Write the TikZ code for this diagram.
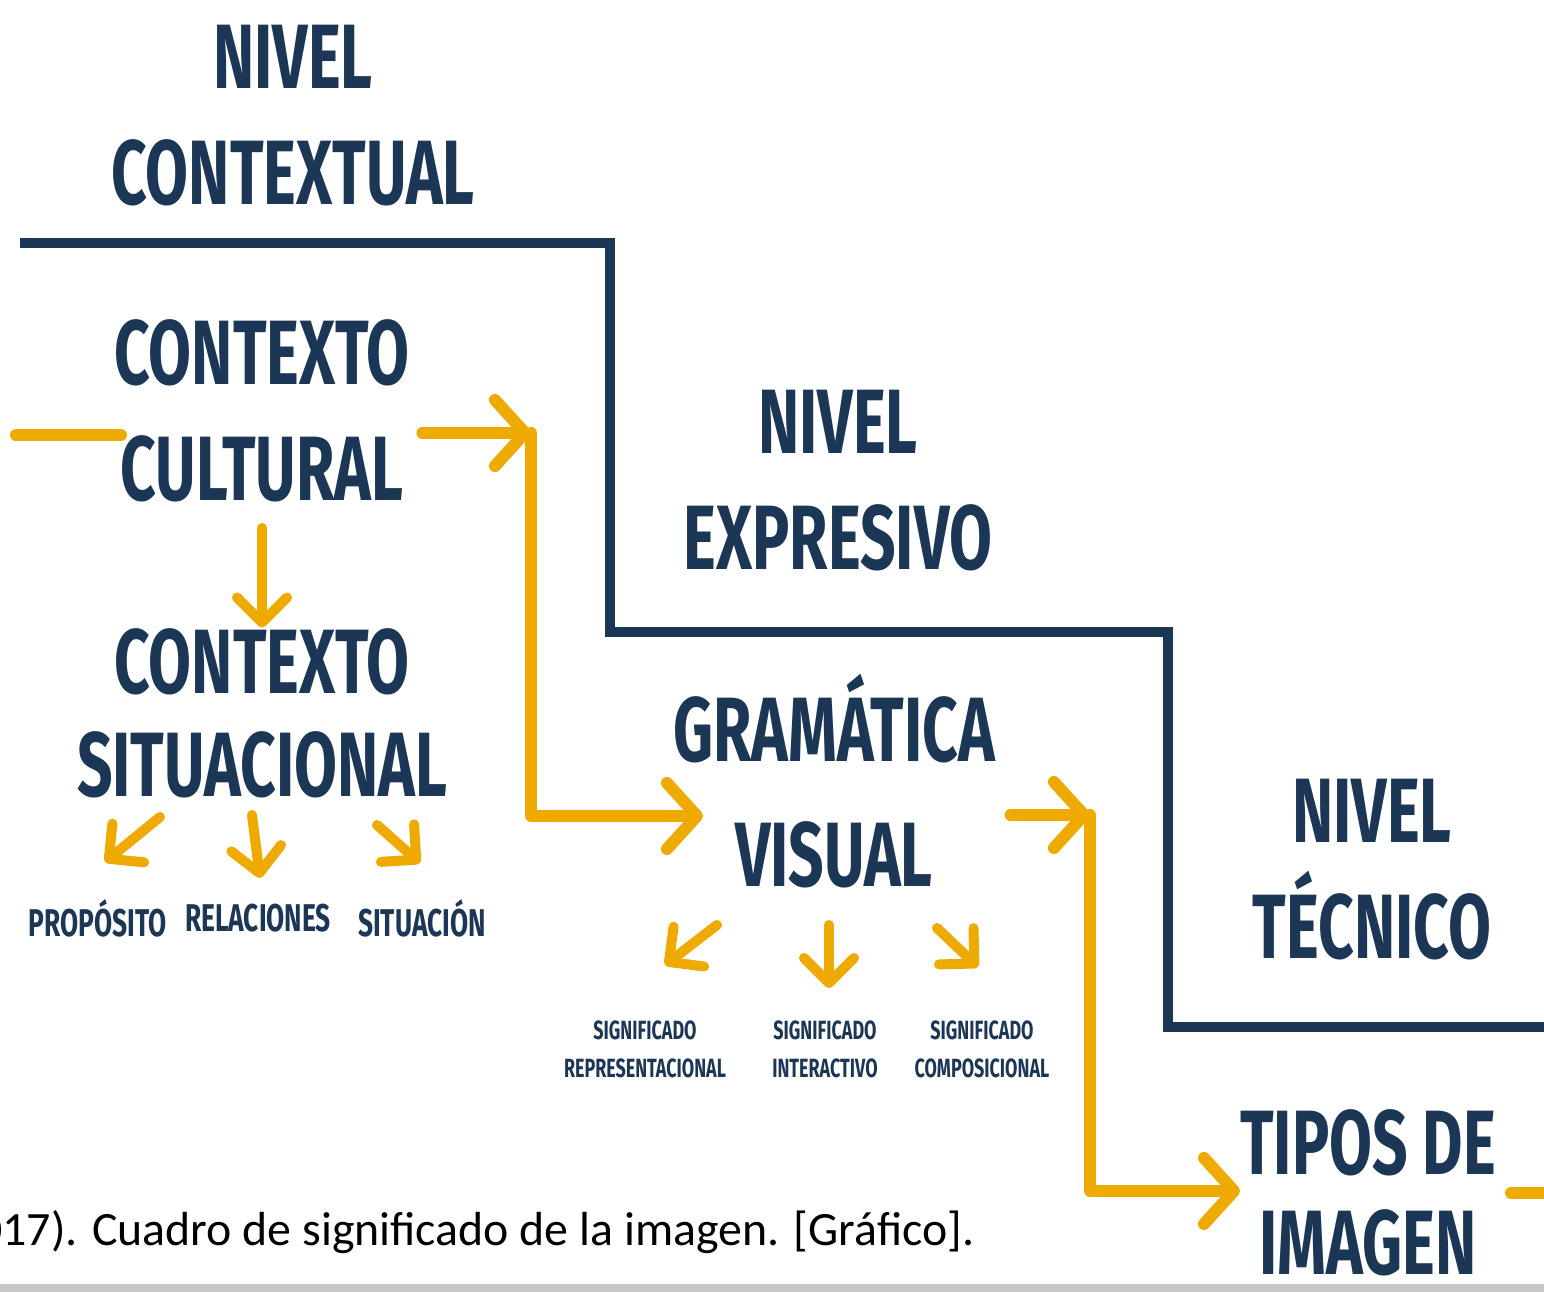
\documentclass[tikz,border=0pt]{standalone}
\usepackage{fontspec}
\setmainfont{Carlito}
\newfontfamily\hand[FakeStretch=0.68]{Fira Sans}
\usetikzlibrary{arrows.meta}
\definecolor{navy}{HTML}{1C3656}
\definecolor{gold}{HTML}{EFAA00}
\tikzset{
    lvl/.style={font=\hand\bfseries\fontsize{26}{33}\selectfont, text=navy, align=center, inner sep=0pt},
    lbl/.style={font=\hand\bfseries\fontsize{11}{13}\selectfont, text=navy, inner sep=0pt},
    tinylbl/.style={font=\hand\bfseries\fontsize{7.5}{10.8}\selectfont, text=navy, align=center, inner sep=0pt},
    stepline/.style={draw=navy, line width=0.1cm},
    gline/.style={draw=gold, line width=0.12cm, line cap=round, line join=round},
    garrow/.style={gline, -{Straight Barb[length=0.3cm, width=0.66cm, line cap=round, line join=round]}},
    sarrow/.style={draw=gold, line width=0.1cm, line cap=round, -{Straight Barb[length=0.25cm, width=0.5cm, line cap=round, line join=round]}}
}
\begin{document}
\begin{tikzpicture}[x=0.01cm, y=-0.01cm]
    \useasboundingbox (0,0) rectangle (1544,1292);

    % the three levels
    \node[lvl] (ctx) at (293,116) {NIVEL\\CONTEXTUAL};
    \node[lvl] (expr) at (838,481) {NIVEL\\EXPRESIVO};
    \node[lvl] (tec) at (1372,870) {NIVEL\\TÉCNICO};
    \draw[stepline] (20,243) -| (610,632) -| (1168,1027) -- (1544,1027);

    % contents of each level
    \node[lvl] (cult) at (262,411) {CONTEXTO\\CULTURAL};
    \node[lvl] (sit) at (262,713) {CONTEXTO\\[-0.13cm]SITUACIONAL};
    \node[lvl] (gram) at (834,781) {GRAMÁTICA\\[0.09cm]VISUAL};
    \node[lvl] (tipos) at (1368,1193) {TIPOS DE\\[-0.16cm]IMAGEN};

    \node[lbl] (prop) at (98,918) {PROPÓSITO};
    \node[lbl] (rel) at (258,918) {RELACIONES};
    \node[lbl] (situ) at (422,918) {SITUACIÓN};

    \node[tinylbl] (srep) at (645,1049) {SIGNIFICADO\\REPRESENTACIONAL};
    \node[tinylbl] (sint) at (825,1049) {SIGNIFICADO\\INTERACTIVO};
    \node[tinylbl] (scom) at (982,1049) {SIGNIFICADO\\COMPOSICIONAL};

    % yellow path through the levels
    \coordinate (k1) at (531,433);
    \coordinate (t1) at (703,816);
    \coordinate (k2) at (1090,815);
    \coordinate (t2) at (1240,1191);
    \draw[gline] (16,435) -- (121,435);
    \draw[garrow] ([xshift=0.12cm]cult.east |- k1) -- (k1);
    \draw[garrow] (k1) |- (t1);
    \draw[garrow] ([xshift=0.15cm]gram.east |- k2) -- (k2);
    \draw[garrow] (k2) |- (t2);
    \draw[gline] (1511,1193) -- (1550,1193);

    % small arrows
    \draw[sarrow] ([yshift=-0.25cm]cult.south) -- (sit.north);
    \draw[sarrow] (160,817) -- (105,862);
    \draw[sarrow] (252,815) -- (260,878);
    \draw[sarrow] (377,825) -- (420,863);
    \draw[sarrow] (717,925) -- (665,965);
    \draw[sarrow] (829,925) -- (829,988);
    \draw[sarrow] (937,928) -- (978,967);

    % caption and bottom bar
    \node[anchor=east, inner sep=0pt, font=\fontsize{13.6}{16}\selectfont] (cap) at (975,1232) {017). Cuadro de significado de la imagen. [Gráfico].};
    \fill[black!22] (0,1284) rectangle (1544,1292);
\end{tikzpicture}
\end{document}
